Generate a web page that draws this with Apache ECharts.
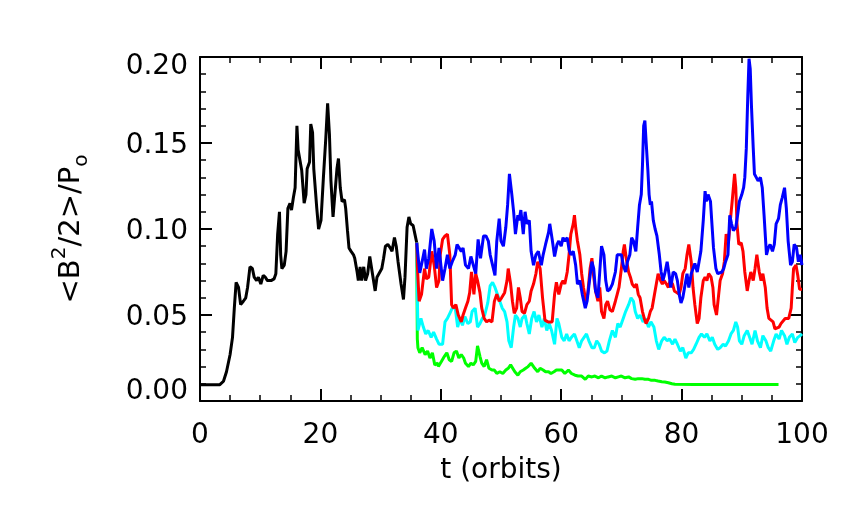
<!DOCTYPE html>
<html>
<head>
<meta charset="utf-8">
<script src="https://cdn.jsdelivr.net/npm/echarts@6/dist/echarts.min.js"></script>
<style>
  html, body { margin: 0; padding: 0; background: #fff; }
  #chart { width: 862px; height: 517px; }
</style>
</head>
<body>
<div id="chart"></div>
<script>
// [t (orbits), <B^2/2>/P0]
var blackData = [
    [0, 0.0095], [3.3, 0.0095], [3.9, 0.0115], [4.4, 0.017], [5.0, 0.027], [5.4, 0.037], [5.7, 0.054],
    [6.0, 0.069], [6.4, 0.066], [6.75, 0.056], [7.2, 0.058], [7.6, 0.060], [7.9, 0.066], [8.3, 0.078],
    [8.7, 0.077], [9.0, 0.072], [9.4, 0.070], [9.7, 0.072], [10.1, 0.068], [10.5, 0.073], [10.85, 0.072],
    [11.2, 0.070], [11.5, 0.069], [11.8, 0.070], [12.0, 0.069], [12.3, 0.071], [12.6, 0.074], [12.9, 0.097],
    [13.2, 0.110], [13.4, 0.085], [13.6, 0.077], [14.0, 0.079], [14.3, 0.087], [14.6, 0.112], [14.95, 0.115],
    [15.2, 0.111], [15.5, 0.118], [15.8, 0.124], [16.1, 0.160], [16.3, 0.146], [16.6, 0.145], [16.9, 0.134],
    [17.3, 0.115], [17.6, 0.120], [17.8, 0.135], [18.2, 0.139], [18.4, 0.161], [18.7, 0.156], [18.9, 0.135],
    [19.4, 0.112], [19.7, 0.100], [20.1, 0.105], [20.5, 0.130], [20.9, 0.153], [21.2, 0.173], [21.5, 0.155],
    [21.75, 0.128], [22.1, 0.107], [22.4, 0.120], [22.75, 0.135], [23.0, 0.141], [23.3, 0.124], [23.6, 0.116],
    [24.0, 0.117], [24.2, 0.112], [24.5, 0.099], [24.75, 0.089], [25.1, 0.087], [25.5, 0.085], [25.7, 0.083],
    [26.1, 0.075], [26.3, 0.070], [26.6, 0.078], [26.85, 0.070], [27.2, 0.078], [27.5, 0.070], [27.85, 0.074],
    [28.2, 0.084], [28.6, 0.075], [29.1, 0.064], [29.4, 0.072], [29.7, 0.072], [30.2, 0.077], [30.5, 0.083],
    [30.8, 0.090], [31.2, 0.091], [31.6, 0.089], [31.9, 0.087], [32.3, 0.095], [32.6, 0.090], [32.9, 0.081],
    [33.4, 0.068], [33.8, 0.059], [34.05, 0.072], [34.4, 0.101], [34.7, 0.107], [35.0, 0.103], [35.4, 0.102],
    [35.7, 0.097], [36.0, 0.092]
];

var blueData = [
    [36.0, 0.092], [36.5, 0.0745], [36.9, 0.081], [37.3, 0.088], [37.6, 0.077], [38.0, 0.083], [38.5, 0.100],
    [38.9, 0.093], [39.3, 0.077], [39.7, 0.089], [39.9, 0.089], [40.3, 0.070], [40.7, 0.077], [41.1, 0.085],
    [41.5, 0.077], [41.9, 0.081], [42.4, 0.085], [42.7, 0.091], [43.0, 0.092], [43.4, 0.087], [43.7, 0.089],
    [44.1, 0.079], [44.6, 0.077], [45.0, 0.084], [45.4, 0.079], [45.8, 0.074], [46.2, 0.094], [46.6, 0.083],
    [47.1, 0.096], [47.5, 0.096], [47.9, 0.093], [48.2, 0.085], [48.6, 0.079], [49.0, 0.073], [49.3, 0.093],
    [49.7, 0.106], [50.0, 0.093], [50.4, 0.090], [50.8, 0.101], [51.1, 0.114], [51.4, 0.132], [51.8, 0.120],
    [52.1, 0.110], [52.4, 0.097], [52.8, 0.108], [53.0, 0.105], [53.3, 0.111], [53.7, 0.097], [54.0, 0.110],
    [54.3, 0.103], [54.7, 0.105], [55.0, 0.087], [55.4, 0.079], [55.8, 0.085], [56.2, 0.087], [56.7, 0.079],
    [57.0, 0.085], [57.4, 0.091], [57.9, 0.098], [58.1, 0.103], [58.5, 0.094], [58.9, 0.084], [59.3, 0.091],
    [59.6, 0.093], [60.0, 0.090], [60.3, 0.095], [60.6, 0.093], [61.0, 0.095], [61.3, 0.088], [61.6, 0.085],
    [62.0, 0.087], [62.4, 0.079], [62.7, 0.068], [63.1, 0.070], [63.5, 0.062], [64.0, 0.054], [64.3, 0.058],
    [64.7, 0.070], [65.1, 0.081], [65.4, 0.077], [65.7, 0.064], [66.1, 0.060], [66.4, 0.075], [66.7, 0.090],
    [67.1, 0.085], [67.4, 0.070], [67.7, 0.064], [68.1, 0.065], [68.5, 0.068], [69.0, 0.075], [69.3, 0.085],
    [69.6, 0.086], [70.0, 0.085], [70.3, 0.079], [70.7, 0.075], [71.0, 0.081], [71.4, 0.085], [71.7, 0.095],
    [72.0, 0.093], [72.4, 0.087], [72.7, 0.101], [73.0, 0.114], [73.3, 0.120], [73.5, 0.137], [73.7, 0.160],
    [73.9, 0.163], [74.1, 0.151], [74.4, 0.134], [74.6, 0.120], [74.8, 0.114], [75.0, 0.116], [75.3, 0.105],
    [75.6, 0.100], [75.9, 0.096], [76.3, 0.085], [76.6, 0.075], [76.9, 0.070], [77.2, 0.074], [77.6, 0.081],
    [77.9, 0.074], [78.2, 0.066], [78.6, 0.075], [79.0, 0.074], [79.3, 0.070], [79.6, 0.062], [79.9, 0.057],
    [80.2, 0.060], [80.6, 0.068], [80.9, 0.074], [81.2, 0.066], [81.6, 0.074], [81.9, 0.077], [82.2, 0.080],
    [82.6, 0.075], [82.9, 0.081], [83.2, 0.087], [83.6, 0.105], [83.9, 0.122], [84.1, 0.116], [84.4, 0.120],
    [84.8, 0.116], [85.0, 0.105], [85.3, 0.089], [85.7, 0.077], [86.0, 0.074], [86.3, 0.073], [86.7, 0.075],
    [87.0, 0.077], [87.3, 0.081], [87.7, 0.085], [88.0, 0.108], [88.3, 0.103], [88.6, 0.099], [89.0, 0.101],
    [89.3, 0.108], [89.6, 0.116], [90.0, 0.120], [90.3, 0.124], [90.5, 0.130], [90.75, 0.147], [91.0, 0.178],
    [91.2, 0.199], [91.4, 0.193], [91.6, 0.172], [91.9, 0.147], [92.1, 0.132], [92.4, 0.130], [92.7, 0.128],
    [93.1, 0.130], [93.4, 0.124], [93.7, 0.108], [94.1, 0.085], [94.4, 0.089], [94.7, 0.091], [95.1, 0.087],
    [95.4, 0.091], [95.7, 0.103], [96.1, 0.106], [96.4, 0.114], [96.7, 0.118], [97.1, 0.124], [97.4, 0.112],
    [97.7, 0.093], [98.1, 0.079], [98.4, 0.081], [98.7, 0.091], [99.1, 0.089], [99.4, 0.081], [99.7, 0.085],
    [100, 0.079]
];

var redData = [
    [36.0, 0.092], [36.1, 0.079], [36.4, 0.058], [36.8, 0.062], [37.3, 0.077], [37.6, 0.071], [38.0, 0.072],
    [38.5, 0.087], [38.9, 0.079], [39.3, 0.066], [39.7, 0.070], [39.9, 0.085], [40.3, 0.094], [40.7, 0.096],
    [41.1, 0.097], [41.5, 0.085], [41.8, 0.056], [42.1, 0.054], [42.5, 0.056], [42.9, 0.050], [43.4, 0.046],
    [43.7, 0.050], [44.1, 0.054], [44.5, 0.058], [44.8, 0.063], [45.1, 0.075], [45.5, 0.062], [45.8, 0.074],
    [46.1, 0.070], [46.5, 0.063], [46.8, 0.054], [47.2, 0.048], [47.6, 0.046], [48.0, 0.047], [48.5, 0.046],
    [48.9, 0.058], [49.3, 0.062], [49.7, 0.058], [50.1, 0.060], [50.6, 0.063], [51.0, 0.070], [51.2, 0.077],
    [51.6, 0.068], [51.9, 0.058], [52.2, 0.051], [52.6, 0.054], [52.9, 0.066], [53.2, 0.060], [53.5, 0.052],
    [53.9, 0.051], [54.3, 0.056], [54.7, 0.058], [55.0, 0.064], [55.4, 0.068], [55.8, 0.074], [56.1, 0.081],
    [56.5, 0.077], [56.9, 0.060], [57.3, 0.047], [57.8, 0.046], [58.1, 0.045], [58.5, 0.046], [58.9, 0.062],
    [59.2, 0.069], [59.6, 0.062], [60.0, 0.068], [60.3, 0.070], [60.6, 0.068], [61.0, 0.075], [61.3, 0.085],
    [61.6, 0.097], [62.0, 0.103], [62.2, 0.108], [62.4, 0.101], [62.7, 0.093], [63.1, 0.085], [63.4, 0.074],
    [63.7, 0.066], [64.1, 0.058], [64.4, 0.062], [64.8, 0.077], [65.1, 0.083], [65.3, 0.075], [65.7, 0.064],
    [66.1, 0.058], [66.4, 0.066], [66.7, 0.052], [67.1, 0.048], [67.4, 0.056], [67.7, 0.058], [68.1, 0.053],
    [68.5, 0.052], [69.0, 0.058], [69.3, 0.062], [69.6, 0.066], [70.0, 0.077], [70.3, 0.087], [70.5, 0.091],
    [70.8, 0.083], [71.2, 0.075], [71.5, 0.072], [71.8, 0.068], [72.2, 0.066], [72.5, 0.068], [72.8, 0.062],
    [73.1, 0.060], [73.5, 0.052], [73.8, 0.048], [74.1, 0.045], [74.5, 0.048], [74.8, 0.052], [75.1, 0.054],
    [75.5, 0.062], [75.8, 0.068], [76.1, 0.074], [76.5, 0.070], [76.8, 0.068], [77.1, 0.070], [77.5, 0.068],
    [77.8, 0.066], [78.1, 0.070], [78.5, 0.068], [78.8, 0.064], [79.2, 0.063], [79.6, 0.062], [79.9, 0.066],
    [80.2, 0.074], [80.6, 0.077], [80.9, 0.085], [81.2, 0.091], [81.6, 0.081], [81.9, 0.066], [82.2, 0.056],
    [82.6, 0.045], [82.9, 0.048], [83.2, 0.060], [83.6, 0.070], [83.9, 0.072], [84.2, 0.070], [84.5, 0.074],
    [84.9, 0.072], [85.2, 0.066], [85.4, 0.056], [85.8, 0.050], [86.1, 0.060], [86.4, 0.070], [86.8, 0.074],
    [87.1, 0.081], [87.4, 0.097], [87.8, 0.093], [88.1, 0.105], [88.4, 0.116], [88.8, 0.132], [89.0, 0.124],
    [89.2, 0.103], [89.5, 0.091], [89.9, 0.092], [90.2, 0.087], [90.5, 0.075], [90.9, 0.064], [91.2, 0.070],
    [91.5, 0.075], [91.9, 0.070], [92.2, 0.077], [92.5, 0.085], [92.9, 0.075], [93.2, 0.070], [93.5, 0.074],
    [93.9, 0.066], [94.2, 0.054], [94.5, 0.048], [94.8, 0.048], [95.2, 0.046], [95.5, 0.042], [95.8, 0.042],
    [96.2, 0.043], [96.5, 0.045], [96.8, 0.046], [97.2, 0.048], [97.5, 0.048], [97.8, 0.048], [98.2, 0.054],
    [98.4, 0.066], [98.6, 0.077], [99.0, 0.079], [99.3, 0.073], [99.6, 0.065], [100, 0.065]
];

var cyanData = [
    [36.0, 0.092], [36.1, 0.062], [36.2, 0.041], [36.7, 0.048], [37.1, 0.043], [37.5, 0.039], [37.9, 0.041],
    [38.4, 0.037], [38.8, 0.040], [39.3, 0.036], [39.7, 0.033], [39.9, 0.032], [40.3, 0.033], [40.7, 0.046],
    [41.1, 0.048], [41.5, 0.051], [41.9, 0.054], [42.4, 0.054], [42.8, 0.043], [43.2, 0.048], [43.6, 0.044],
    [44.0, 0.049], [44.5, 0.045], [44.9, 0.046], [45.2, 0.052], [45.7, 0.054], [46.1, 0.043], [46.5, 0.045],
    [46.9, 0.048], [47.3, 0.050], [47.8, 0.057], [48.2, 0.067], [48.6, 0.069], [49.0, 0.066], [49.4, 0.062],
    [49.8, 0.058], [50.2, 0.054], [50.6, 0.052], [51.0, 0.046], [51.3, 0.035], [51.7, 0.031], [52.1, 0.043],
    [52.4, 0.050], [52.8, 0.048], [53.2, 0.043], [53.5, 0.048], [54.0, 0.050], [54.3, 0.045], [54.7, 0.039],
    [55.1, 0.048], [55.5, 0.052], [55.9, 0.046], [56.3, 0.050], [56.8, 0.043], [57.2, 0.048], [57.6, 0.041],
    [58.0, 0.045], [58.4, 0.041], [58.9, 0.033], [59.3, 0.048], [59.6, 0.045], [60.1, 0.037], [60.5, 0.035],
    [60.9, 0.039], [61.3, 0.035], [61.7, 0.037], [62.2, 0.039], [62.6, 0.035], [63.0, 0.031], [63.4, 0.035],
    [63.8, 0.037], [64.2, 0.039], [64.6, 0.035], [65.1, 0.031], [65.5, 0.031], [65.9, 0.035], [66.3, 0.033],
    [66.7, 0.029], [67.2, 0.028], [67.6, 0.029], [68.0, 0.035], [68.5, 0.041], [69.0, 0.037], [69.4, 0.045],
    [69.8, 0.043], [70.3, 0.048], [70.7, 0.052], [71.2, 0.056], [71.6, 0.060], [72.0, 0.058], [72.3, 0.052],
    [72.7, 0.048], [73.1, 0.050], [73.6, 0.046], [74.0, 0.048], [74.5, 0.043], [74.9, 0.046], [75.4, 0.043],
    [75.8, 0.035], [76.2, 0.030], [76.7, 0.035], [77.1, 0.037], [77.6, 0.035], [78.0, 0.036], [78.5, 0.033],
    [78.9, 0.036], [79.3, 0.033], [79.8, 0.029], [80.2, 0.031], [80.7, 0.025], [81.1, 0.028], [81.6, 0.028],
    [82.0, 0.030], [82.4, 0.033], [82.9, 0.037], [83.3, 0.039], [83.8, 0.037], [84.2, 0.039], [84.7, 0.035],
    [85.1, 0.037], [85.5, 0.033], [86.0, 0.030], [86.4, 0.031], [86.9, 0.033], [87.3, 0.032], [87.8, 0.035],
    [88.2, 0.039], [88.6, 0.041], [89.0, 0.046], [89.3, 0.043], [89.6, 0.035], [90.0, 0.033], [90.4, 0.038],
    [90.9, 0.041], [91.3, 0.037], [91.7, 0.033], [92.2, 0.041], [92.6, 0.035], [93.1, 0.031], [93.5, 0.038],
    [94.0, 0.035], [94.4, 0.031], [94.8, 0.029], [95.3, 0.035], [95.7, 0.039], [96.2, 0.036], [96.6, 0.041],
    [97.1, 0.038], [97.5, 0.033], [97.9, 0.037], [98.4, 0.039], [98.8, 0.034], [99.3, 0.037], [99.7, 0.038],
    [100, 0.039]
];

var greenData = [
    [36.0, 0.092], [36.1, 0.036], [36.2, 0.031], [36.5, 0.028], [36.9, 0.031], [37.4, 0.027], [37.8, 0.029],
    [38.2, 0.025], [38.6, 0.028], [39.0, 0.021], [39.5, 0.022], [39.6, 0.020], [40.1, 0.023], [40.6, 0.026],
    [41.0, 0.028], [41.4, 0.024], [41.8, 0.023], [42.2, 0.028], [42.6, 0.029], [43.0, 0.025], [43.4, 0.027],
    [43.8, 0.025], [44.1, 0.022], [44.6, 0.020], [45.0, 0.022], [45.4, 0.021], [45.8, 0.023], [46.1, 0.032],
    [46.5, 0.026], [46.8, 0.022], [47.2, 0.020], [47.6, 0.024], [48.0, 0.019], [48.5, 0.018], [48.9, 0.018],
    [49.3, 0.016], [49.8, 0.017], [50.3, 0.016], [50.8, 0.018], [51.2, 0.019], [51.6, 0.021], [51.9, 0.020],
    [52.3, 0.017], [52.8, 0.015], [53.2, 0.017], [53.7, 0.018], [54.1, 0.019], [54.5, 0.020], [55.0, 0.022],
    [55.3, 0.023], [55.6, 0.019], [56.1, 0.017], [56.5, 0.019], [57.0, 0.018], [57.4, 0.017], [57.9, 0.017],
    [58.3, 0.016], [58.8, 0.017], [59.2, 0.018], [59.5, 0.017], [60.1, 0.018], [60.6, 0.016], [61.2, 0.018],
    [61.7, 0.016], [62.3, 0.015], [62.8, 0.0145], [63.4, 0.0145], [64.0, 0.0126], [64.5, 0.0145], [65.1, 0.014],
    [65.6, 0.0145], [66.2, 0.0135], [66.7, 0.0145], [67.3, 0.0135], [67.8, 0.014], [68.4, 0.0145], [69.0, 0.0135],
    [69.5, 0.014], [70.0, 0.0145], [70.6, 0.0135], [71.2, 0.014], [71.7, 0.013], [72.3, 0.0126], [72.8, 0.013],
    [73.4, 0.013], [73.9, 0.0126], [74.5, 0.0126], [75.0, 0.012], [75.6, 0.012], [76.1, 0.0116], [76.7, 0.0112],
    [77.2, 0.011], [77.8, 0.0106], [78.4, 0.010], [78.9, 0.0097], [82.0, 0.0096], [90.0, 0.0096], [96.1, 0.0096]
];

var xTicks = { min: 0, max: 100, interval: 20 };
var yTicks = { min: 0, max: 0.2, interval: 0.05 };

var chart = echarts.init(document.getElementById('chart'), null, { renderer: 'canvas' });

var fontName = 'DejaVu Sans';
var axisBase = {
    type: 'value',
    axisLine: { show: true, onZero: false, lineStyle: { color: '#000', width: 2 } },
    axisTick: { show: true, inside: true, length: 12, lineStyle: { color: '#000', width: 2 } },
    minorTick: { show: true, length: 6, lineStyle: { color: '#000', width: 1.5 } },
    splitLine: { show: false },
    minorSplitLine: { show: false }
};

function axis(extra) {
    return echarts.util.merge(echarts.util.clone(axisBase), extra, true);
}

function line(data, color) {
    return {
        type: 'line',
        data: data,
        showSymbol: false,
        symbol: 'none',
        lineStyle: { color: color, width: 3 },
        z: 3
    };
}

// IDL style: top label pushed down, bottom label pushed up
function yLabel(v) {
    var s = v.toFixed(2);
    if (v > 0.199) return '{hi|' + s + '}';
    if (v < 0.001) return '{lo|' + s + '}';
    return '{mid|' + s + '}';
}

var option = {
    animation: false,
    backgroundColor: '#fff',
    grid: { left: 200, right: 60, top: 57, bottom: 116, containLabel: false },
    xAxis: [
        axis({
            position: 'bottom',
            min: xTicks.min, max: xTicks.max, interval: xTicks.interval,
            minorTick: { splitNumber: 4 },
            axisLabel: { color: '#000', fontFamily: fontName, fontSize: 28, margin: 21 },
            name: 't (orbits)',
            nameLocation: 'middle',
            nameGap: 56,
            nameTextStyle: { color: '#000', fontFamily: fontName, fontSize: 28 }
        }),
        axis({
            position: 'top',
            min: xTicks.min, max: xTicks.max, interval: xTicks.interval,
            minorTick: { splitNumber: 4 },
            axisLabel: { show: false }
        })
    ],
    yAxis: [
        axis({
            position: 'left',
            min: yTicks.min, max: yTicks.max, interval: yTicks.interval,
            minorTick: { splitNumber: 5 },
            axisLabel: {
                color: '#000', fontFamily: fontName, fontSize: 28, margin: 12,
                formatter: yLabel,
                rich: {
                    hi: { fontFamily: fontName, fontSize: 28, color: '#000', padding: [20, 0, 0, 0] },
                    mid: { fontFamily: fontName, fontSize: 28, color: '#000', padding: [6, 0, 0, 0] },
                    lo: { fontFamily: fontName, fontSize: 28, color: '#000', padding: [0, 0, 18, 0] }
                }
            },
            name: '<B{sup|2}/2>/P{sub|o}',
            nameLocation: 'middle',
            nameGap: 108,
            nameTextStyle: {
                color: '#000', fontFamily: fontName, fontSize: 29, lineHeight: 42,
                rich: {
                    sup: { fontFamily: fontName, fontSize: 20, verticalAlign: 'top', lineHeight: 42, color: '#000' },
                    sub: { fontFamily: fontName, fontSize: 20, verticalAlign: 'bottom', lineHeight: 42, color: '#000' }
                }
            }
        }),
        axis({
            position: 'right',
            min: yTicks.min, max: yTicks.max, interval: yTicks.interval,
            minorTick: { splitNumber: 5 },
            axisLabel: { show: false }
        })
    ],
    series: [
        line(blackData, '#000000'),
        line(greenData, '#00ff00'),
        line(cyanData, '#00ffff'),
        line(redData, '#ff0000'),
        line(blueData, '#0000ff')
    ]
};

chart.setOption(option);
</script>
</body>
</html>
